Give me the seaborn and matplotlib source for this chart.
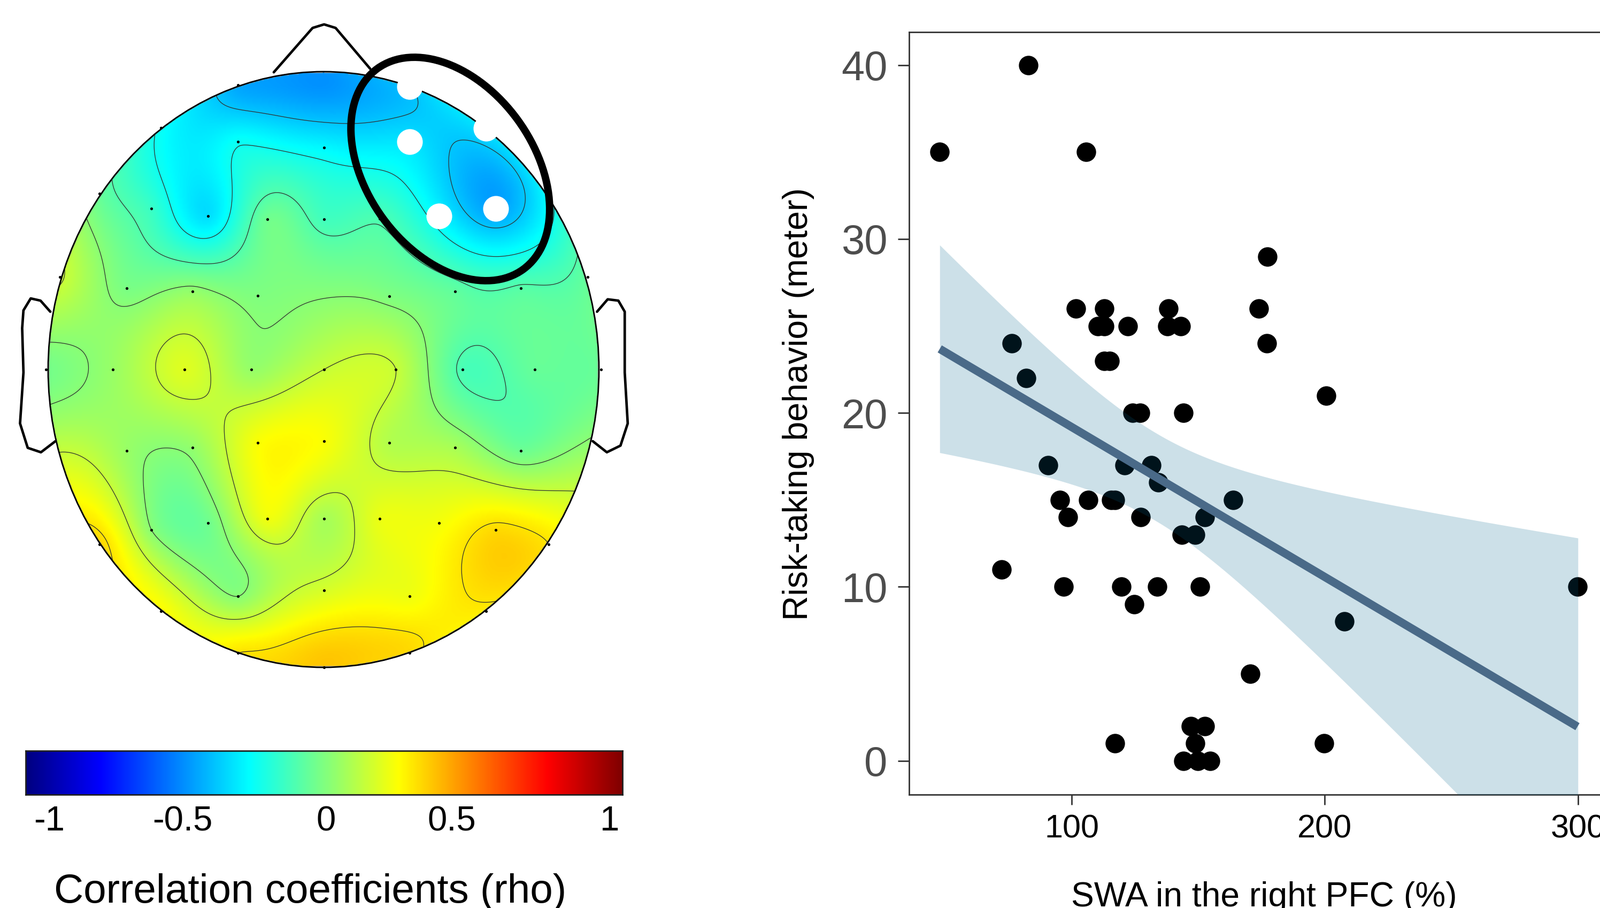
import numpy as np
import pandas as pd
import matplotlib
matplotlib.use("Agg")
import matplotlib.pyplot as plt
from matplotlib.colors import LinearSegmentedColormap
from matplotlib.patches import Ellipse
import seaborn as sns

# =========================
# RIGHT PANEL DATA
# =========================
swa = [47.9, 82.9, 105.8, 177.4, 101.7, 112.9, 138.2, 174.0, 110.3, 112.9, 122.1, 137.9, 143.1,
       76.4, 177.2, 112.9, 115.0, 82.0, 200.5, 124.0, 127.0, 144.2, 90.8, 121.0, 131.5, 134.3,
       95.3, 106.6, 115.6, 117.1, 163.7, 98.5, 127.2, 152.7, 143.5, 148.9, 72.3, 96.8, 119.7,
       133.9, 150.6, 299.8, 124.7, 207.8, 170.5, 147.2, 152.5, 117.1, 148.7, 199.7, 144.2,
       149.9, 154.7]
risk = [35, 40, 35, 29, 26, 26, 26, 26, 25, 25, 25, 25, 25,
        24, 24, 23, 23, 22, 21, 20, 20, 20, 17, 17, 17, 16,
        15, 15, 15, 15, 15, 14, 14, 14, 13, 13, 11, 10, 10,
        10, 10, 10, 9, 8, 5, 2, 2, 1, 1, 1, 0,
        0, 0]
swa_ticks = [100, 200, 300]
risk_ticks = [0, 10, 20, 30, 40]

# =========================
# LEFT PANEL DATA
# electrode positions as read off the crop (crop pixels), value = rho at that electrode
# =========================
elec_x = [558, 960, 378, 1140, 558, 760, 960, 233, 1287, 355, 488, 627, 760, 890, 1030, 1162,
          140, 297, 452, 605, 913, 1067, 1222, 1378,
          108, 264, 433, 590, 760, 928, 1085, 1254, 1410,
          297, 452, 605, 760, 913, 1067, 1222,
          233, 355, 488, 627, 760, 890, 1030, 1162, 1287,
          378, 558, 760, 960, 1140, 558, 760, 960]
elec_y = [192, 195, 288, 290, 320, 333, 320, 436, 436, 470, 487, 495, 495, 493, 487, 470,
          625, 650, 657, 667, 668, 657, 650, 625,
          833, 833, 833, 833, 833, 833, 833, 833, 833,
          1017, 1010, 998, 995, 998, 1010, 1017,
          1228, 1195, 1179, 1170, 1170, 1170, 1179, 1195, 1228,
          1378, 1345, 1332, 1345, 1378, 1473, 1505, 1473]
elec_rho = [-0.42, -0.365, -0.235, -0.30, -0.23, -0.26, -0.30, -0.05, -0.24, -0.14, -0.31, -0.03, -0.12, -0.10, -0.26, -0.43,
            0.15, -0.01, 0.04, 0.00, 0.00, -0.06, -0.08, -0.05,
            -0.02, 0.05, 0.185, 0.045, 0.14, 0.14, -0.105, -0.05, -0.04,
            0.05, 0.04, 0.24, 0.24, 0.10, 0.08, -0.035,
            0.33, 0.02, -0.03, 0.22, 0.08, 0.21, 0.23, 0.32, 0.30,
            0.25, 0.02, 0.17, 0.22, 0.285, 0.30, 0.36, 0.32]

# rim values with no electrode dot in the picture
rim_x = [760, 130, 1385]
rim_y = [163, 1040, 1040]
rim_rho = [-0.46, 0.16, 0.07]

sig_x = [960, 1140, 960, 1030, 1162]
sig_y = [195, 290, 320, 487, 470]

contour_levels = [-0.36, -0.22, -0.09, 0.02, 0.14, 0.30]
cbar_ticks = ["-1", "-0.5", "0", "0.5", "1"]
cbar_tick_px = [92, 341, 610, 845, 1140]

nose_x = [642, 733, 760, 787, 868]
nose_y = [163, 63, 55, 63, 155]
ear_l_x = [118, 95, 72, 55, 52, 55, 47, 65, 96, 130]
ear_l_y = [703, 678, 673, 700, 740, 840, 955, 1010, 1020, 995]
ear_r_x = [1400, 1425, 1450, 1465, 1465, 1472, 1455, 1423, 1390]
ear_r_y = [703, 675, 678, 703, 840, 955, 1005, 1020, 995]

CROP_X, CROP_Y = 1.254, 1.206
W, H = 2992, 1698
HEAD_X, HEAD_Y, HEAD_RX, HEAD_RY = 605, 691, 515, 557

# matlab flavour of jet, its knots sit on eighths
matlab_jet = LinearSegmentedColormap.from_list("matlab_jet", [
    (0, (0, 0, 0.5)), (1 / 8, (0, 0, 1)), (3 / 8, (0, 1, 1)),
    (5 / 8, (1, 1, 0)), (7 / 8, (1, 0, 0)), (1, (0.5, 0, 0))], N=512)

sns.set_style("ticks")
plt.rcParams["font.family"] = ["Liberation Sans", "DejaVu Sans"]

fig = plt.figure(figsize=(W / 200, H / 200), dpi=200)


def box(x0, y0, x1, y1):
    return [x0 / W, 1 - y1 / H, (x1 - x0) / W, (y1 - y0) / H]


# =========================
# Topographic map
# =========================
ax = fig.add_axes([0, 0, 1250 / W, 1])
ax.set_xlim(0, 1250)
ax.set_ylim(H, 0)
ax.axis("off")

ex = np.array(elec_x) / CROP_X
ey = np.array(elec_y) / CROP_Y

# biharmonic spline, same as the v4 griddata the map was made with
u = (np.array(elec_x + rim_x) / CROP_X - HEAD_X) / HEAD_RX
v = (np.array(elec_y + rim_y) / CROP_Y - HEAD_Y) / HEAD_RY
ev = np.array(elec_rho + rim_rho)


def green(r):
    out = np.zeros_like(r)
    out[r > 0] = r[r > 0] ** 2 * (np.log(r[r > 0]) - 1)
    return out


weights = np.linalg.solve(green(np.hypot(u[:, None] - u, v[:, None] - v)), ev)
gu, gv = np.meshgrid(np.linspace(-1, 1, 501), np.linspace(-1, 1, 501))
field = green(np.hypot(gu[..., None] - u, gv[..., None] - v)) @ weights
field = np.ma.masked_where(gu ** 2 + gv ** 2 > 1, field)

extent = [HEAD_X - HEAD_RX, HEAD_X + HEAD_RX, HEAD_Y + HEAD_RY, HEAD_Y - HEAD_RY]
ax.imshow(field, cmap=matlab_jet, vmin=-1, vmax=1, extent=extent, origin="upper",
          aspect="auto", interpolation="bilinear", zorder=1)
ax.set_xlim(0, 1250)
ax.set_ylim(H, 0)
ax.contour(HEAD_X + gu * HEAD_RX, HEAD_Y + gv * HEAD_RY, field, levels=contour_levels,
           colors="#303030", linewidths=0.45, linestyles="solid", zorder=2)
ax.add_patch(Ellipse((HEAD_X, HEAD_Y), 2 * HEAD_RX, 2 * HEAD_RY, fill=False, ec="black", lw=1.0, zorder=3))

ax.plot(np.array(nose_x) / CROP_X, np.array(nose_y) / CROP_Y, color="black", lw=1.7, zorder=3)
ax.plot(np.array(ear_l_x) / CROP_X, np.array(ear_l_y) / CROP_Y, color="black", lw=1.7, zorder=3)
ax.plot(np.array(ear_r_x) / CROP_X, np.array(ear_r_y) / CROP_Y, color="black", lw=1.7, zorder=3)

ax.scatter(ex, ey, s=3.5, color="black", linewidths=0, zorder=4)
ax.scatter(np.array(sig_x) / CROP_X, np.array(sig_y) / CROP_Y, s=300, color="white", linewidths=0, zorder=5)
ax.add_patch(Ellipse((842, 316), 464, 312, angle=54, fill=False, ec="black", lw=5, zorder=6))

# =========================
# Colour bar
# =========================
cax = fig.add_axes(box(48, 1404, 1164, 1486))
sns.heatmap(np.linspace(-1, 1, 512)[None, :], cmap=matlab_jet, vmin=-1, vmax=1, cbar=False,
            xticklabels=False, yticklabels=False, ax=cax, rasterized=True)
for side in cax.spines.values():
    side.set_visible(True)
    side.set_color("#202020")
    side.set_linewidth(1.0)
for label, px in zip(cbar_ticks, cbar_tick_px):
    fig.text(px / W, 1 - 1536 / H, label, ha="center", va="center", fontsize=23.5, color="black")
fig.text(580 / W, 1 - 1669 / H, "Correlation coefficients (rho)", ha="center", va="center",
         fontsize=27.5, color="black")

# =========================
# Scatter with linear fit
# =========================
df = pd.DataFrame({"swa": swa, "risk": risk})
sx = fig.add_axes(box(1700, 60, 3010, 1486))
sns.regplot(data=df, x="swa", y="risk", ci=None, truncate=True, ax=sx,
            scatter_kws={"s": 172, "color": "black", "alpha": 1, "linewidths": 0, "zorder": 2},
            line_kws={"color": "#4a6a88", "lw": 5.5, "zorder": 4, "solid_capstyle": "butt"})

# ggplot style t band on the fitted mean
xs = np.array(swa)
ys = np.array(risk)
slope, icpt = np.polyfit(xs, ys, 1)
grid = np.linspace(xs.min(), 300, 200)
resid = ys - (slope * xs + icpt)
se = np.sqrt((resid ** 2).sum() / (len(xs) - 2)) * np.sqrt(1 / len(xs) + (grid - xs.mean()) ** 2 / ((xs - xs.mean()) ** 2).sum())
sx.fill_between(grid, slope * grid + icpt - 2.007 * se, slope * grid + icpt + 2.007 * se,
                color="#00648c", alpha=0.2, linewidth=0, zorder=3)

sx.set_xlim(35.8, 312.5)
sx.set_ylim(-1.95, 41.9)
sx.set_xticks(swa_ticks)
sx.set_yticks(risk_ticks)
sx.set_xlabel("")
sx.set_ylabel("")
sx.tick_params(axis="x", labelsize=22, labelcolor="black", color="#333333", length=7, width=1.0, pad=6)
sx.tick_params(axis="y", labelsize=28, labelcolor="#4d4d4d", color="#333333", length=7.5, width=1.0, pad=7)
for name, side in sx.spines.items():
    side.set_visible(name != "right")
    side.set_color("#333333")
    side.set_linewidth(1.0)
fig.text(1493 / W, 1 - 755 / H, "Risk-taking behavior (meter)", rotation=90, ha="center", va="center",
         fontsize=23.2, color="black")
fig.text(2364 / W, 1 - 1678 / H, "SWA in the right PFC (%)", ha="center", va="center",
         fontsize=23.1, color="black")

fig.savefig("out.png", dpi=200)
